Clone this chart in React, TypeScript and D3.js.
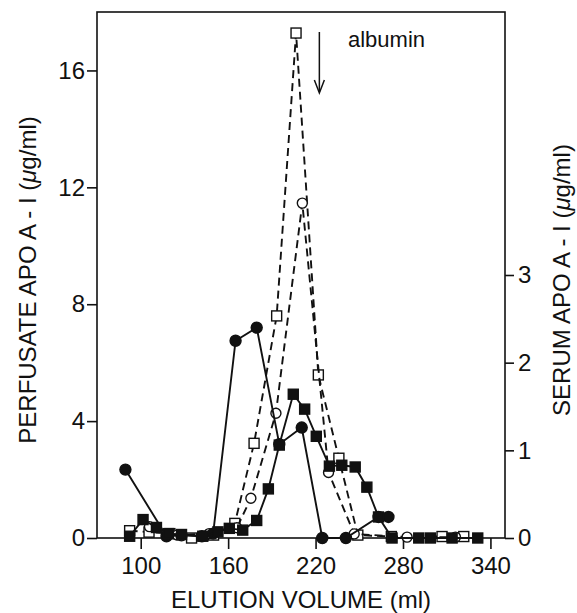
import * as d3 from "d3";
import { useEffect, useRef } from "react";

// filled circles, solid line (serum axis)
const circFilledMl = [89.5, 117.7, 128, 142, 149.7, 165.1, 179.6, 195.1, 210.5, 224.6, 240.8, 263.2, 270];
const circFilledVal = [0.78, 0.02, 0.03, 0.02, 0.05, 2.25, 2.4, 1.07, 1.26, 0, 0, 0.24, 0.24];

// filled squares, solid line (serum axis)
const sqFilledMl = [92.4, 101.6, 110.8, 119, 128, 142.6, 153, 160.8, 170, 179.6, 187.6, 195.1, 204.7, 212.5, 220.5, 229.5, 238, 247.2, 255.2, 263.2, 272.5, 290.8, 298.8, 313.7, 331.3];
const sqFilledVal = [0.02, 0.21, 0.12, 0.05, 0.04, 0.02, 0.07, 0.11, 0.09, 0.2, 0.56, 1.06, 1.64, 1.47, 1.16, 0.82, 0.83, 0.81, 0.58, 0.24, 0, 0, 0, 0, 0];

// open squares, dashed line (perfusate axis)
const sqOpenMl = [92.4, 105.7, 120, 134.9, 150, 164.6, 177.8, 193.3, 206.6, 221.9, 236, 249, 272, 306.8, 321.7];
const sqOpenVal = [0.25, 0.2, 0.15, 0, 0.1, 0.5, 3.24, 7.6, 17.28, 5.58, 2.73, 0.1, 0.05, 0.05, 0.05];

// open circles, dashed line (perfusate axis)
const circOpenMl = [106, 125, 147, 166, 175.6, 192.8, 210.9, 228.9, 246.5, 282.8, 316];
const circOpenVal = [0.39, 0.1, 0.15, 0.35, 1.36, 4.27, 11.46, 2.24, 0.14, 0.03, 0.03];

const xTicks = [100, 160, 220, 280, 340];
const leftTicks = [0, 4, 8, 12, 16];
const rightTicks = [0, 1, 2, 3];

const W = 577;
const H = 613;
const left = 97;
const right = 505;
const top = 12;
const bottom = 538;
const font = "'Liberation Sans', Arial, Helvetica, sans-serif";
const ink = "#111";

export default function App() {
  const svgRef = useRef<SVGSVGElement>(null);

  useEffect(() => {
    const svg = d3.select(svgRef.current);
    svg.selectAll("*").remove();

    const x = d3.scaleLinear().domain([70, 350]).range([left, right]);
    const yL = d3.scaleLinear().domain([0, 18]).range([bottom, top]);
    const yR = d3.scaleLinear().domain([0, 6]).range([bottom, top]);

    // frame
    svg
      .append("rect")
      .attr("x", left)
      .attr("y", top)
      .attr("width", right - left)
      .attr("height", bottom - top)
      .attr("fill", "none")
      .attr("stroke", ink)
      .attr("stroke-width", 1.6);

    const styleAxis = (g: any) => {
      g.select(".domain").remove();
      g.selectAll("line").attr("stroke", ink).attr("stroke-width", 1.6);
      g.selectAll("text")
        .attr("fill", ink)
        .style("font-family", font)
        .style("font-size", "24px");
    };

    svg
      .append("g")
      .attr("transform", `translate(0,${bottom})`)
      .call(d3.axisBottom(x).tickValues(xTicks).tickSize(11).tickPadding(8))
      .call(styleAxis);

    svg
      .append("g")
      .attr("transform", `translate(${left},0)`)
      .call(d3.axisLeft(yL).tickValues(leftTicks).tickSize(10).tickPadding(2))
      .call(styleAxis);

    svg
      .append("g")
      .attr("transform", `translate(${right},0)`)
      .call(d3.axisRight(yR).tickValues(rightTicks).tickFormat(d3.format("d")).tickSize(9).tickPadding(4))
      .call(styleAxis);

    const drawSeries = (
      mls: number[],
      vals: number[],
      yScale: any,
      dashed: boolean,
      marker: "circle" | "square",
      filled: boolean
    ) => {
      const pts = mls.map((m, i) => [x(m), yScale(vals[i])] as [number, number]);
      svg
        .append("path")
        .attr("d", d3.line()(pts))
        .attr("fill", "none")
        .attr("stroke", ink)
        .attr("stroke-width", 1.9)
        .attr("stroke-dasharray", dashed ? "8,5" : null);

      const g = svg.append("g");
      if (marker === "circle") {
        g.selectAll("circle")
          .data(pts)
          .join("circle")
          .attr("cx", (d) => d[0])
          .attr("cy", (d) => d[1])
          .attr("r", filled ? 5.5 : 5)
          .attr("fill", filled ? ink : "#fff")
          .attr("stroke", ink)
          .attr("stroke-width", 1.4);
      } else {
        const s = 10;
        g.selectAll("rect")
          .data(pts)
          .join("rect")
          .attr("x", (d) => d[0] - s / 2)
          .attr("y", (d) => d[1] - s / 2)
          .attr("width", s)
          .attr("height", s)
          .attr("fill", filled ? ink : "#fff")
          .attr("stroke", ink)
          .attr("stroke-width", 1.4);
      }
    };

    drawSeries(sqOpenMl, sqOpenVal, yL, true, "square", false);
    drawSeries(circOpenMl, circOpenVal, yL, true, "circle", false);
    drawSeries(circFilledMl, circFilledVal, yR, false, "circle", true);
    drawSeries(sqFilledMl, sqFilledVal, yR, false, "square", true);

    // albumin arrow
    const ax = x(222.6);
    svg
      .append("line")
      .attr("x1", ax)
      .attr("x2", ax)
      .attr("y1", 32)
      .attr("y2", 92)
      .attr("stroke", ink)
      .attr("stroke-width", 1.5);
    svg
      .append("path")
      .attr("d", `M${ax - 5},${80} L${ax},${93} L${ax + 5},${80}`)
      .attr("fill", "none")
      .attr("stroke", ink)
      .attr("stroke-width", 1.5);
    svg
      .append("text")
      .attr("x", 348)
      .attr("y", 47)
      .style("font-family", font)
      .style("font-size", "22px")
      .attr("fill", ink)
      .text("albumin");

    // titles
    svg
      .append("text")
      .attr("x", (left + right) / 2)
      .attr("y", 608)
      .attr("text-anchor", "middle")
      .style("font-family", font)
      .style("font-size", "24px")
      .attr("fill", ink)
      .text("ELUTION VOLUME (ml)");

    const yTitle = (tx: number, ty: number, label: string) => {
      const t = svg
        .append("text")
        .attr("transform", `translate(${tx},${ty}) rotate(-90)`)
        .attr("text-anchor", "middle")
        .style("font-family", font)
        .style("font-size", "24px")
        .attr("fill", ink);
      t.append("tspan").text(label + " (");
      t.append("tspan").style("font-style", "italic").text("μ");
      t.append("tspan").text("g/ml)");
    };
    yTitle(36, 280, "PERFUSATE APO A - I");
    yTitle(570, 280, "SERUM APO A - I");
  }, []);

  return (
    <svg ref={svgRef} width={W} height={H} style={{ position: "absolute", left: 0, top: 0, background: "#fff" }} />
  );
}
